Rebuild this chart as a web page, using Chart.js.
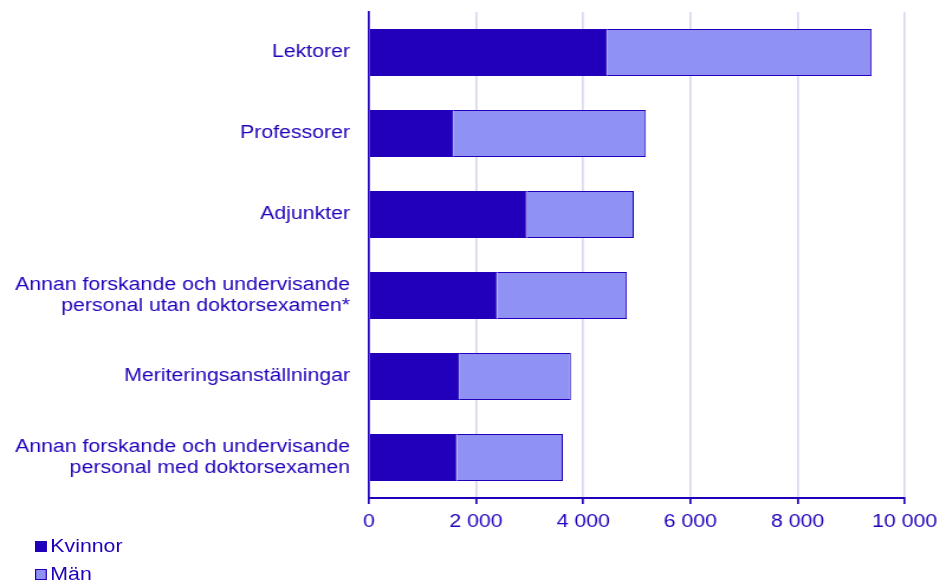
<!DOCTYPE html>
<html>
<head>
<meta charset="utf-8">
<script src="https://cdn.jsdelivr.net/npm/chart.js@4/dist/chart.umd.min.js"></script>
<style>
  html, body { margin:0; padding:0; background:#fff; }
  #wrap { position:relative; width:946px; height:586px; overflow:hidden; }
  /* the original is drawn a bit wider than tall, so the chart is stretched sideways */
  #stretch { position:absolute; left:0; top:0; width:800px; height:586px; transform:scaleX(1.1825); transform-origin:0 0; }
  #legend { position:absolute; left:35px; top:532px; transform:scaleX(1.1825); transform-origin:0 0;
            font-family:"Liberation Sans", Arial, sans-serif; font-size:18px; color:#2200bb; }
  #legend div { display:flex; align-items:center; height:28px; }
  #legend span.box { display:inline-block; width:10px; height:11px; margin-right:3px; box-sizing:border-box; border:1px solid #2200bb; }
</style>
</head>
<body>
<div id="wrap">
  <div id="stretch"><canvas id="chart" width="800" height="586"></canvas></div>
  <div id="legend"></div>
</div>
<script>
// stacked bars: Kvinnor + Män per personalkategori
const categories = [
  "Lektorer",
  "Professorer",
  "Adjunkter",
  ["Annan forskande och undervisande", "personal utan doktorsexamen*"],
  "Meriteringsanställningar",
  ["Annan forskande och undervisande", "personal med doktorsexamen"]
];
const kvinnor = [4440, 1570, 2950, 2390, 1680, 1640];
const man = [4945, 3600, 1995, 2425, 2090, 1980];
const xTicks = [0, 2000, 4000, 6000, 8000, 10000];

const dark = '#2200bb';
const light = '#8f92f2';
const seriesNames = ['Kvinnor', 'Män'];
const seriesColors = [dark, light];
const font = '"Liberation Sans", Arial, sans-serif';

const fmt = v => String(v).replace(/\B(?=(\d{3})+(?!\d))/g, '\u00a0');

new Chart(document.getElementById('chart'), {
  type: 'bar',
  data: {
    labels: categories,
    datasets: [
      { label: seriesNames[0], data: kvinnor, backgroundColor: seriesColors[0], borderColor: dark, borderWidth: 1 },
      { label: seriesNames[1], data: man, backgroundColor: seriesColors[1], borderColor: dark, borderWidth: 1 }
    ]
  },
  options: {
    indexAxis: 'y',
    responsive: false,
    maintainAspectRatio: false,
    animation: false,
    layout: { padding: { top: 12, right: 35, left: 0, bottom: 0 } },
    plugins: { legend: { display: false }, tooltip: { enabled: false } },
    datasets: { bar: { categoryPercentage: 0.58, barPercentage: 1 } },
    scales: {
      x: {
        stacked: true,
        min: 0, max: 10000,
        afterBuildTicks: s => { s.ticks = xTicks.map(v => ({ value: v })); },
        afterFit: s => { s.height = 88; s.paddingLeft = 0; s.paddingRight = 0; },
        grid: { color: '#d8d8f0', lineWidth: 1.7, tickColor: dark, tickLength: 6 },
        border: { color: dark, width: 2 },
        ticks: {
          color: dark, padding: 7,
          font: { family: font, size: 18 },
          callback: v => fmt(v)
        }
      },
      y: {
        stacked: true,
        afterFit: s => { s.width = 312; s.paddingTop = 0; s.paddingBottom = 0; },
        grid: { display: false },
        border: { color: dark, width: 1.7 },
        ticks: {
          color: dark, padding: 8,
          font: { family: font, size: 18, lineHeight: 1.2 }
        }
      }
    }
  }
});

// legend, stacked vertically like the original
const leg = document.getElementById('legend');
seriesNames.forEach((n, i) => {
  const row = document.createElement('div');
  row.innerHTML = '<span class="box" style="background:' + seriesColors[i] + '"></span>' + n;
  leg.appendChild(row);
});
</script>
</body>
</html>
